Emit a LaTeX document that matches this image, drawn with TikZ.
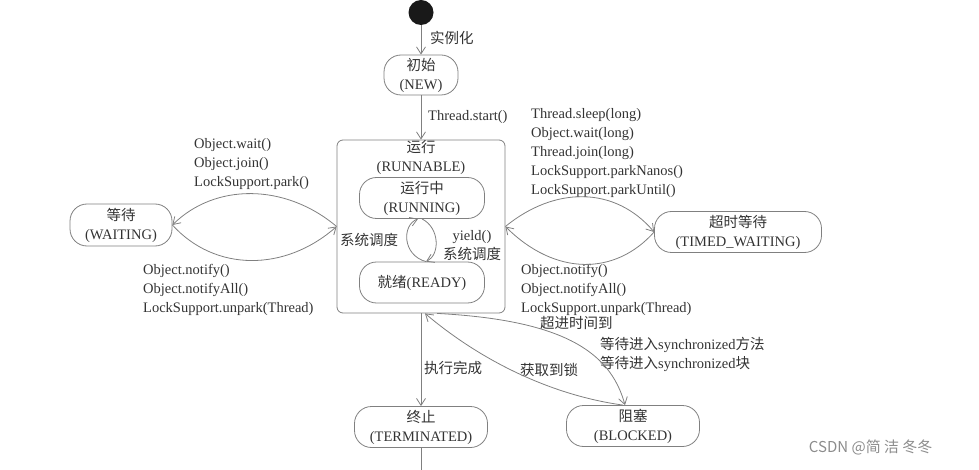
\documentclass[tikz,border=0pt]{standalone}
\usepackage{fontspec}
\setmainfont{Liberation Serif}
\newfontfamily\cjk{Noto Sans CJK SC}
\newcommand{\zh}[1]{{\cjk #1}}
\usetikzlibrary{arrows.meta}
\definecolor{linegray}{HTML}{808080}
\definecolor{inkgray}{HTML}{333333}

\begin{document}
\begin{tikzpicture}[x=1pt,y=-1pt,
  every node/.style={font=\fontsize{14.5}{19}\selectfont,text=inkgray},
  state/.style={draw=linegray,line width=0.8pt,rounded corners=17pt,align=center,inner sep=0pt},
  lbl/.style={align=left,inner sep=0pt,anchor=west},
  flow/.style={draw=linegray,line width=0.8pt,-{Straight Barb[length=7pt,width=9pt]}}]
  \useasboundingbox (0,0) rectangle (979,470);

  % states
  \node[circle,fill=black!90,minimum size=25pt,inner sep=0pt] (start) at (421,12.5) {};
  \node[state,minimum width=74pt,minimum height=40pt] (new) at (421,75) {\zh{初始}\\(NEW)};
  \node[draw=linegray,line width=0.8pt,rounded corners=6pt,minimum width=168pt,minimum height=173pt,inner sep=0pt] (runnable) at (421,226.5) {};
  \node[align=center,inner sep=0pt] (runlbl) at (421,157) {\zh{运行}\\(RUNNABLE)};
  \node[state,minimum width=125pt,minimum height=41pt] (running) at (422,198) {\zh{运行中}\\(RUNNING)};
  \node[state,minimum width=125pt,minimum height=41pt] (ready) at (422,282.5) {\zh{就绪}(READY)};
  \node[state,minimum width=102pt,minimum height=42pt] (waiting) at (121,225) {\zh{等待}\\(WAITING)};
  \node[state,minimum width=167pt,minimum height=41pt] (timed) at (738,232) {\zh{超时等待}\\(TIMED\_WAITING)};
  \node[state,minimum width=133pt,minimum height=41pt] (terminated) at (421,427) {\zh{终止}\\(TERMINATED)};
  \node[state,minimum width=133pt,minimum height=41pt] (blocked) at (633,426) {\zh{阻塞}\\(BLOCKED)};
  \coordinate (final) at (421,470);

  % labels
  \node[lbl] (newlbl) at (430,38) {\zh{实例化}};
  \node[lbl] (startlbl) at (428,117) {Thread.start()};
  \node[lbl] (waitcall) at (194,164) {Object.wait()\\Object.join()\\LockSupport.park()};
  \node[lbl] (waitback) at (143,290) {Object.notify()\\Object.notifyAll()\\LockSupport.unpark(Thread)};
  \node[lbl] (timedcall) at (531,153) {Thread.sleep(long)\\Object.wait(long)\\Thread.join(long)\\LockSupport.parkNanos()\\LockSupport.parkUntil()};
  \node[lbl] (timedback) at (521,290) {Object.notify()\\Object.notifyAll()\\LockSupport.unpark(Thread)};
  \node[lbl] (schedl) at (340,240) {\zh{系统调度}};
  \node[align=center,inner sep=0pt] (schedr) at (472,246) {yield()\\\zh{系统调度}};
  \node[lbl] (donelbl) at (424,368) {\zh{执行完成}};
  \node[lbl] (locklbl) at (520,370) {\zh{获取到锁}};
  \node[lbl] (timeoutlbl) at (540,323) {\zh{超进时间到}};
  \node[lbl] (synclbl) at (600,354) {\zh{等待进入}synchronized\zh{方法}\\\zh{等待进入}synchronized\zh{块}};
  \node[font=\cjk\fontsize{15}{17}\selectfont,text=black!45,anchor=east] (mark) at (936,447) {CSDN @简 洁 冬冬};

  % transitions
  \draw[flow] (start) -- (new);
  \draw[flow] (new) -- (runnable);
  \draw[flow] (runnable) -- (terminated);
  \draw[linegray,line width=0.8pt] (terminated) -- (final);
  \draw[flow] ([xshift=4pt]ready.north) .. controls (402,255) and (402,225) .. ([xshift=-4pt]running.south);
  \draw[flow] (running.south) .. controls (440,228) and (440,255) .. ([xshift=4pt]ready.north);
  \draw[flow] (runnable.west) .. controls (285,183) and (215,183) .. (waiting.east);
  \draw[flow] (waiting.east) .. controls (215,272) and (285,272) .. (runnable.west);
  \draw[flow] (runnable.east) .. controls (555,186) and (615,186) .. (timed.west);
  \draw[flow] (timed.west) .. controls (615,276) and (555,276) .. (runnable.east);
  \draw[flow] ([xshift=16pt]runnable.south) .. controls (560,320) and (610,350) .. ([xshift=-8pt]blocked.north);
  \draw[flow] ([xshift=-10pt]blocked.north) .. controls (550,395) and (480,360) .. ([xshift=4pt]runnable.south);
\end{tikzpicture}
\end{document}
